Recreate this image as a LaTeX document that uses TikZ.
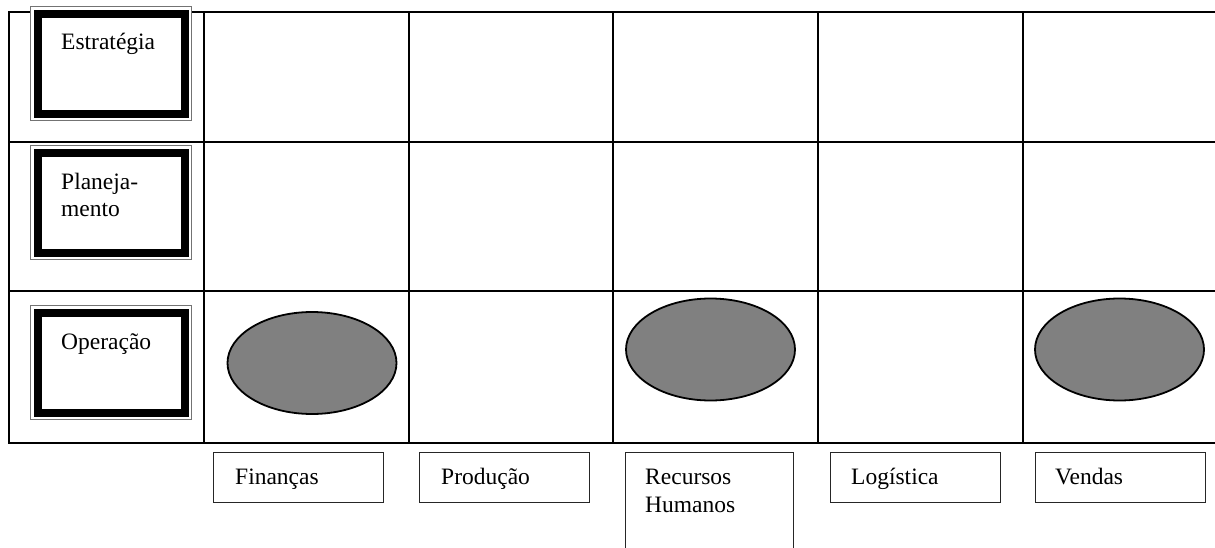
\documentclass[tikz,border=0pt]{standalone}
\usepackage{fontspec}
\setmainfont{Liberation Serif}
\usetikzlibrary{shapes.geometric}
\begin{document}
\begin{tikzpicture}[x=1pt,y=-1pt,
  font=\fontsize{23.5}{28}\selectfont,
  gridline/.style={line width=2.8pt, black, line cap=rect},
  levelbox/.style={draw=black!55, line width=1.1pt, fill=white, anchor=north west,
    minimum width=161pt, minimum height=114pt, inner sep=0pt,
    path picture={\draw[black, line width=8pt]
      ([shift={(7pt,-7pt)}]path picture bounding box.north west) rectangle
      ([shift={(-7pt,7pt)}]path picture bounding box.south east);}},
  leveltext/.style={anchor=base west, inner sep=0pt, align=left},
  areabox/.style={draw=black!85, line width=1.4pt, fill=white, anchor=north west,
    minimum width=170pt, minimum height=50pt, inner sep=0pt},
  areatext/.style={anchor=base west, inner sep=0pt, align=left},
  blob/.style={ellipse, draw=black, line width=1.8pt, fill=black!50,
    minimum width=169pt, minimum height=102pt, inner sep=0pt}
]
\useasboundingbox (0,0) rectangle (1215,548);
\clip (0,0) rectangle (1215,548);

% grid
\foreach \yy in {12,142,291,443} {\draw[gridline] (9,\yy) -- (1230,\yy);}
\foreach \xx in {9,204,409,613,818,1023} {\draw[gridline] (\xx,12) -- (\xx,443);}

% level boxes
\node[levelbox] (estr) at (30,6) {};
\node[leveltext] (estrT) at (61,50) {Estratégia};
\node[levelbox] (plan) at (30,145) {};
\node[leveltext] (planT) at (61,217) {Planeja-\\mento};
\node[levelbox] (oper) at (30,305) {};
\node[leveltext] (operT) at (61,349) {Operação};

% ellipses
\node[blob] (e1) at (312,363) {};
\node[blob] (e2) at (710.5,349.5) {};
\node[blob] (e3) at (1119.5,349.5) {};

% area boxes
\node[areabox] (fin) at (213,452) {};
\node[areatext] (finT) at (235,484) {Finanças};
\node[areabox] (prod) at (419,452) {};
\node[areatext] (prodT) at (441,484) {Produção};
\node[areabox, minimum width=168pt, minimum height=120pt] (rh) at (625,452) {};
\node[areatext] (rhT) at (645,512) {Recursos\\Humanos};
\node[areabox] (log) at (830,452) {};
\node[areatext] (logT) at (851,484) {Logística};
\node[areabox] (ven) at (1035,452) {};
\node[areatext] (venT) at (1055,484) {Vendas};
\end{tikzpicture}
\end{document}
